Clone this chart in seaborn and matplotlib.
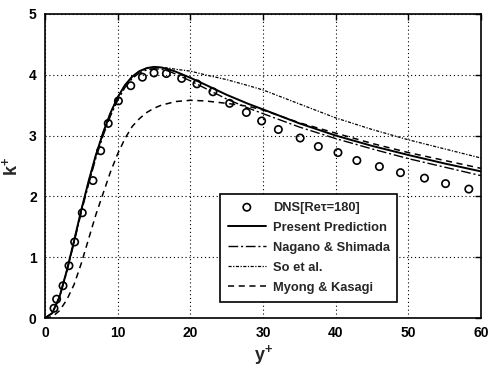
import matplotlib
matplotlib.use("Agg")
import matplotlib.pyplot as plt
import seaborn as sns

# ---- data ----
y_dns = [1.24, 1.6, 2.48, 3.3, 4.08, 5.13, 6.6, 7.66, 8.7, 10.1, 11.8, 13.4, 15.0, 16.7,
         18.8, 20.9, 23.1, 25.4, 27.7, 29.8, 32.1, 35.1, 37.6, 40.3, 42.9, 46.0, 48.9,
         52.2, 55.1, 58.3]
k_dns = [0.16, 0.31, 0.53, 0.86, 1.25, 1.73, 2.26, 2.75, 3.2, 3.57, 3.82, 3.96, 4.03, 4.02,
         3.94, 3.85, 3.72, 3.53, 3.38, 3.24, 3.10, 2.96, 2.82, 2.72, 2.59, 2.49, 2.39,
         2.30, 2.21, 2.12]

y_line = [0, 1, 2, 3, 4, 5, 6, 7, 8, 9, 10, 11, 12, 13, 14, 15, 16, 17, 18, 20, 22, 25,
          28, 30, 35, 40, 45, 50, 55, 60]
k_present = [0, 0.08, 0.35, 0.78, 1.27, 1.78, 2.25, 2.68, 3.05, 3.37, 3.63, 3.83, 3.97,
             4.06, 4.11, 4.13, 4.12, 4.09, 4.05, 3.95, 3.84, 3.67, 3.52, 3.43, 3.2, 3.0,
             2.83, 2.68, 2.54, 2.41]
k_nagano = [0, 0.08, 0.34, 0.76, 1.24, 1.74, 2.2, 2.63, 3.0, 3.32, 3.58, 3.79, 3.94,
            4.03, 4.08, 4.1, 4.09, 4.06, 4.01, 3.9, 3.78, 3.6, 3.45, 3.36, 3.14, 2.95,
            2.78, 2.62, 2.48, 2.34]
k_so = [0, 0.08, 0.35, 0.78, 1.27, 1.78, 2.25, 2.68, 3.05, 3.37, 3.63, 3.83, 3.97,
        4.06, 4.1, 4.12, 4.12, 4.11, 4.09, 4.06, 4.0, 3.92, 3.82, 3.75, 3.52, 3.29,
        3.1, 2.93, 2.78, 2.63]
k_myong = [0, 0.02, 0.12, 0.3, 0.55, 0.9, 1.3, 1.7, 2.05, 2.4, 2.7, 2.95, 3.15, 3.28,
           3.38, 3.45, 3.5, 3.53, 3.56, 3.58, 3.57, 3.53, 3.48, 3.42, 3.21, 3.04, 2.87,
           2.72, 2.59, 2.46]

labels = ["DNS[Re\u03c4=180]", "Present Prediction", "Nagano & Shimada", "So et al.",
          "Myong & Kasagi"]
x_ticks = [0, 10, 20, 30, 40, 50, 60]
y_ticks = [0, 1, 2, 3, 4, 5]

# ---- plot ----
sns.set_style("white")
plt.rcParams['font.family'] = ['Liberation Sans', 'DejaVu Sans']
plt.rcParams['mathtext.fontset'] = 'custom'
plt.rcParams['mathtext.rm'] = 'Liberation Sans:bold'
plt.rcParams['mathtext.it'] = 'Liberation Sans:bold'
plt.rcParams['mathtext.bf'] = 'Liberation Sans:bold'
fig = plt.figure(figsize=(4.89, 3.67), dpi=100)
ax = fig.add_axes([0.092, 0.1335, 0.892, 0.8285])

sns.scatterplot(x=y_dns, y=k_dns, ax=ax, marker='o', s=28, facecolor='none',
                edgecolor='black', linewidth=1.2, label=labels[0], zorder=3)
sns.lineplot(x=y_line, y=k_present, ax=ax, color='black', linewidth=1.4,
             label=labels[1])
l_na = sns.lineplot(x=y_line, y=k_nagano, ax=ax, color='black', linewidth=1.0,
                    label=labels[2]).lines[-1]
l_na.set_linestyle((0, (7, 2, 1.5, 2)))
l_so = sns.lineplot(x=y_line, y=k_so, ax=ax, color='black', linewidth=0.9,
                    label=labels[3]).lines[-1]
l_so.set_linestyle((0, (2.5, 1.2, 1, 1.2)))
l_my = sns.lineplot(x=y_line, y=k_myong, ax=ax, color='black', linewidth=1.1,
                    label=labels[4]).lines[-1]
l_my.set_linestyle((0, (4, 3)))

ax.set_xlim(0, 60)
ax.set_ylim(0, 5)
ax.set_xticks(x_ticks)
ax.set_yticks(y_ticks)
ax.set_xticklabels([str(v) for v in x_ticks], fontsize=10, fontweight='bold')
ax.set_yticklabels([str(v) for v in y_ticks], fontsize=10, fontweight='bold')
ax.grid(True, color='black', linestyle=(0, (1, 2.5)), linewidth=0.8)
ax.tick_params(direction='in', top=True, right=True, length=4, width=1, pad=6,
               labelsize=10, colors='black')
for sp in ax.spines.values():
    sp.set_color('black')
    sp.set_linewidth(1.2)

ax.set_xlabel('y$^{+}$', fontsize=13, fontweight='bold', labelpad=2)
ax.set_ylabel('k$^{+}$', fontsize=13, fontweight='bold', labelpad=6)

leg = ax.legend(loc='lower left', bbox_to_anchor=(0.402, 0.054),
                prop={'size': 9.3, 'weight': 'bold'},
                frameon=True, fancybox=False, edgecolor='black', framealpha=1,
                handlelength=2.9, borderpad=0.6, labelspacing=0.62,
                handletextpad=0.55, borderaxespad=0)
leg.get_frame().set_linewidth(1.2)

fig.savefig('out.png', dpi=100)
